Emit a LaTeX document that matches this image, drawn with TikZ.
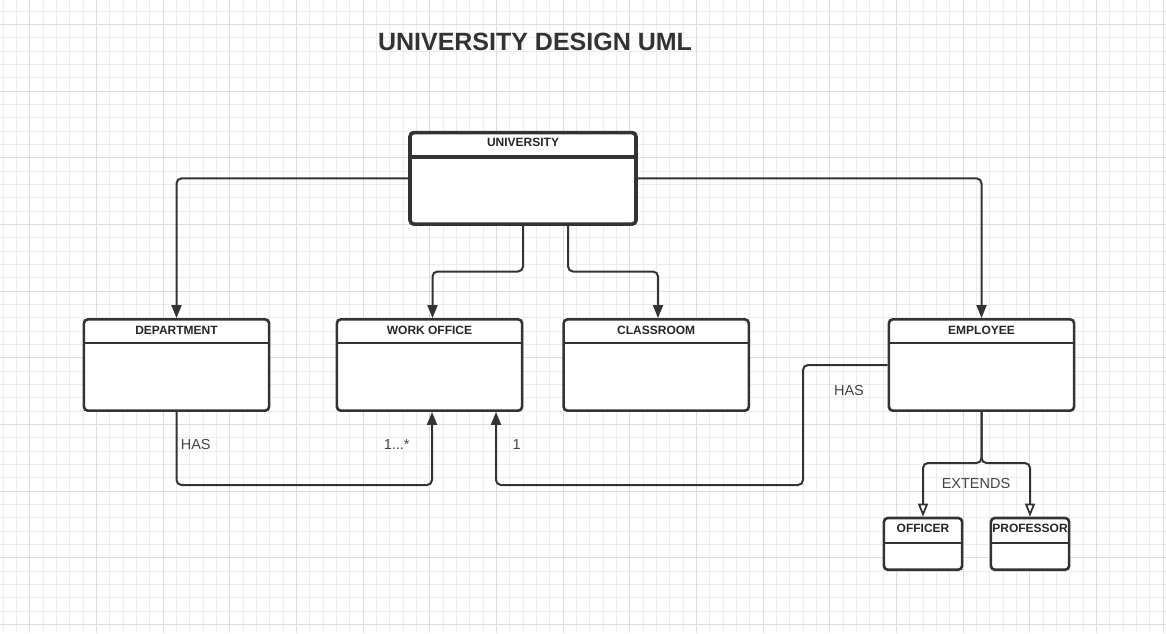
\documentclass[tikz,border=0pt]{standalone}
\usepackage{fontspec}
\setmainfont{Liberation Sans}
\usetikzlibrary{arrows.meta}
\definecolor{gridminor}{HTML}{ECECEC}
\definecolor{gridmajor}{HTML}{DCDCDC}
\definecolor{ink}{HTML}{333333}
\definecolor{titleink}{HTML}{333333}
\definecolor{labelink}{HTML}{444444}
\begin{document}
\begin{tikzpicture}[x=1pt,y=-1pt,
  gminor/.style={draw=gridminor, line width=1pt},
  gmajor/.style={draw=gridmajor, line width=1.2pt},
  umlbox/.style={draw=ink, fill=white, line width=2.6pt, rounded corners=4pt,
    minimum width=185.3pt, minimum height=91.3pt, inner sep=0pt},
  bigbox/.style={umlbox, line width=3.6pt, minimum width=226pt, minimum height=91.6pt},
  smallbox/.style={umlbox, minimum width=78.3pt, minimum height=51.8pt},
  divider/.style={draw=ink, line width=2.6pt},
  boxtitle/.style={anchor=base, inner sep=0pt, text=black!85, font=\bfseries\fontsize{12}{14}\selectfont},
  lbl/.style={anchor=base, inner sep=0pt, text=labelink, font=\fontsize{14.5}{17}\selectfont},
  conn/.style={draw=ink, line width=2pt, rounded corners=5pt},
  filledarrow/.style={-{Triangle[length=13pt, width=10pt]}},
  openarrow/.style={-{Triangle[open, fill=white, length=13pt, width=10pt, line width=1.8pt]}}
]
\useasboundingbox (0,0) rectangle (1166,633);
\fill[white] (0,0) rectangle (1166,633);
% grid
\foreach \i in {0,...,87} {
  \pgfmathsetmacro{\gx}{round(2.667+13.3333*\i)+0.5}
  \draw[gminor] (\gx,0) -- (\gx,633);
}
\foreach \j in {0,...,46} {
  \pgfmathsetmacro{\gy}{round(10.667+13.3333*\j)+0.5}
  \draw[gminor] (0,\gy) -- (1166,\gy);
}
\foreach \m in {0,...,17} {
  \pgfmathsetmacro{\gx}{round(29.333+66.6667*\m)+0.5}
  \draw[gmajor] (\gx,0) -- (\gx,633);
}
\foreach \m in {0,...,9} {
  \pgfmathsetmacro{\gy}{round(24+66.6667*\m)+0.5}
  \draw[gmajor] (0,\gy) -- (1166,\gy);
}

% title
\node[anchor=base, inner sep=0pt, text=titleink, font=\bfseries\fontsize{25}{30}\selectfont] (title) at (535,50) {UNIVERSITY DESIGN UML};

% boxes
\node[bigbox] (univ) at (523,178.35) {};
\node[umlbox] (dept) at (176.5,365) {};
\node[umlbox] (wo) at (429.5,365) {};
\node[umlbox] (cl) at (656.2,365) {};
\node[umlbox] (emp) at (981.5,365) {};
\node[smallbox] (off) at (923,543.85) {};
\node[smallbox] (prof) at (1030,543.85) {};

% dividers
\draw[divider, line width=3.8pt] ([shift={(1.8pt,-26pt)}]univ.north west) -- ([shift={(-1.8pt,-26pt)}]univ.north east);
\foreach \b in {dept,wo,cl,emp}
  \draw[divider] ([shift={(1.3pt,-25pt)}]\b.north west) -- ([shift={(-1.3pt,-25pt)}]\b.north east);
\foreach \b in {off,prof}
  \draw[divider] ([shift={(1.3pt,-26.5pt)}]\b.north west) -- ([shift={(-1.3pt,-26.5pt)}]\b.north east);

% box titles
\node[boxtitle] (univ-t) at ([yshift=-16pt]univ.north) {UNIVERSITY};
\node[boxtitle] (dept-t) at ([yshift=-16pt]dept.north) {DEPARTMENT};
\node[boxtitle] (wo-t) at ([yshift=-16pt]wo.north) {WORK OFFICE};
\node[boxtitle] (cl-t) at ([yshift=-16pt]cl.north) {CLASSROOM};
\node[boxtitle] (emp-t) at ([yshift=-16pt]emp.north) {EMPLOYEE};
\node[boxtitle] (off-t) at ([yshift=-16pt]off.north) {OFFICER};
\node[boxtitle] (prof-t) at ([yshift=-16pt]prof.north) {PROFESSOR};

% waypoints
\coordinate (wa) at (432.5,271.5);
\coordinate (ca) at (658,271.5);
\coordinate (da) at (432,485);
\coordinate (ea) at (803,485);
\coordinate (eb) at (496,485);
\coordinate (ej) at (981.5,463);
\coordinate (us) at (568,224);

% connectors
\draw[conn, filledarrow] (univ.west) -| (dept.north);
\draw[conn, filledarrow] (univ.east) -| (emp.north);
\draw[conn, filledarrow] (univ.south) |- (wa) -- (wa |- wo.north);
\draw[conn, filledarrow] (us |- univ.south) |- (ca) -- (ca |- cl.north);
\draw[conn, filledarrow] (dept.south) |- (da) -- (da |- wo.south);
\draw[conn, filledarrow] (emp.west) -| (ea) -- (eb) -- (eb |- wo.south);
\draw[conn, openarrow] (emp.south) -- (ej) -| (off.north);
\draw[conn, openarrow] (emp.south) -- (ej) -| (prof.north);

% labels
\node[lbl] (has1) at (195.7,449) {HAS};
\node[lbl] (mult1) at (396.7,449) {1...*};
\node[lbl] (mult2) at (516.7,449) {1};
\node[lbl] (has2) at (849,395) {HAS};
\node[lbl] (ext) at (976,488.3) {EXTENDS};
\end{tikzpicture}
\end{document}
